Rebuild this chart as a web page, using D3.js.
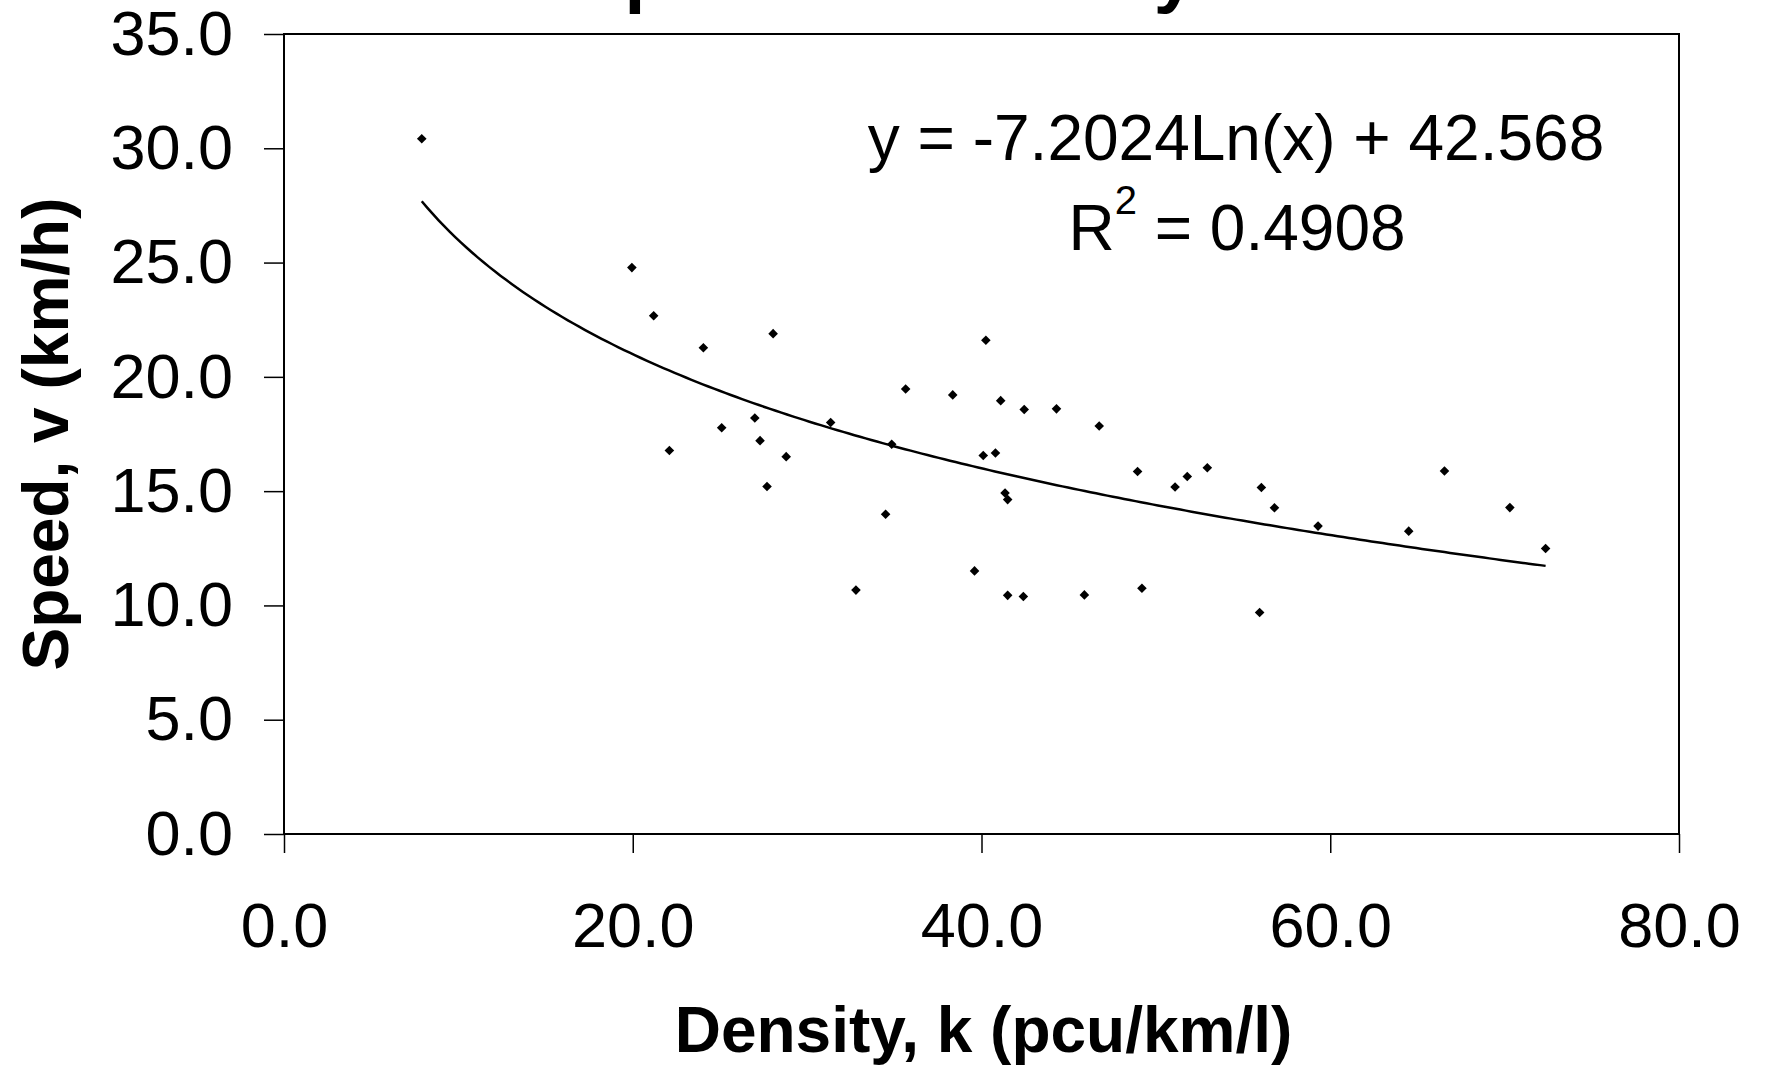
<!DOCTYPE html>
<html>
<head>
<meta charset="utf-8">
<script src="https://cdn.jsdelivr.net/npm/d3@7"></script>
<style>
  body { margin: 0; background: #fff; }
  svg { display: block; }
  text { font-family: Arial, "Liberation Sans", sans-serif; fill: #000; }
</style>
</head>
<body>
<svg id="chart" width="1767" height="1066"></svg>
<script>
// density k (pcu/km/l) and speed v (km/h)
var density = [7.9, 19.95, 21.2, 22.1, 24.05, 25.1, 27.0, 27.3, 28.05, 27.7,
               28.8, 31.35, 32.8, 34.5, 34.85, 35.65, 38.35, 39.6, 40.1, 40.25,
               40.8, 41.1, 41.35, 41.5, 41.5, 42.4, 42.45, 44.3, 45.9, 46.75,
               48.95, 49.2, 51.1, 51.8, 52.95, 55.95, 56.05, 56.8, 59.3, 64.5,
               66.55, 70.3, 72.35];
var speed   = [30.42, 24.78, 22.67, 16.78, 21.27, 17.77, 18.2, 17.21, 21.89, 15.2,
               16.51, 18.0, 10.67, 13.99, 17.05, 19.47, 19.21, 11.51, 16.56, 21.6,
               16.67, 18.96, 14.92, 14.63, 10.44, 10.39, 18.57, 18.6, 10.46, 17.85,
               15.86, 10.75, 15.18, 15.64, 16.02, 9.69, 15.16, 14.27, 13.47, 13.25,
               15.88, 14.28, 12.49];
var xTicks = [0, 20, 40, 60, 80];
var yTicks = [0, 5, 10, 15, 20, 25, 30, 35];
// logarithmic trendline y = a*ln(x) + b, as printed on the chart
var trendA = -7.2024, trendB = 42.568, rSquared = "0.4908";

var title = "Speed vs Density",
    xTitle = "Density, k (pcu/km/l)",
    yTitle = "Speed, v (km/h)";

var svg = d3.select("#chart");
var x = d3.scaleLinear().domain([0, 80]).range([284, 1679]),
    y = d3.scaleLinear().domain([0, 35]).range([834, 34]);
var fmt = d3.format(".1f");

//
// title (mostly cut off at the top of the scan)
svg.append("text")
  .attr("x", 885).attr("y", -1)
  .attr("text-anchor", "middle")
  .style("font-size", "75px").style("font-weight", "bold")
  .text(title);

//
// axes
var yAxis = svg.append("g")
  .attr("transform", "translate(" + x(0) + ",0)")
  .call(d3.axisLeft(y).tickValues(yTicks).tickSize(20).tickPadding(31).tickFormat(fmt));
var xAxis = svg.append("g")
  .attr("transform", "translate(0," + y(0) + ")")
  .call(d3.axisBottom(x).tickValues(xTicks).tickSize(19).tickPadding(49).tickFormat(fmt));

[yAxis, xAxis].forEach(function(g) {
  g.select(".domain").remove();
  g.selectAll(".tick line").attr("stroke", "#000").attr("stroke-width", 1.5);
  g.selectAll(".tick text").attr("fill", "#000")
    .style("font-size", "63px").style("font-family", "Arial, 'Liberation Sans', sans-serif");
});

// plot frame
svg.append("rect")
  .attr("x", x(0)).attr("y", y(35))
  .attr("width", x(80) - x(0)).attr("height", y(0) - y(35))
  .attr("fill", "none").attr("stroke", "#000").attr("stroke-width", 2);

//
// trendline
var kMin = d3.min(density), kMax = d3.max(density);
var trendPts = d3.range(0, 201).map(function(i) {
  var k = kMin + (kMax - kMin) * i / 200;
  return [k, trendA * Math.log(k) + trendB];
});
svg.append("path")
  .datum(trendPts)
  .attr("fill", "none").attr("stroke", "#000").attr("stroke-width", 2.5)
  .attr("d", d3.line().x(function(d) { return x(d[0]); }).y(function(d) { return y(d[1]); }));

//
// observations (diamonds)
var diamond = d3.symbol().type(d3.symbolSquare).size(46);
svg.append("g").selectAll("path")
  .data(density.map(function(k, i) { return { k: k, v: speed[i] }; }))
  .enter().append("path")
  .attr("d", diamond)
  .attr("fill", "#000")
  .attr("transform", function(d) { return "translate(" + x(d.k) + "," + y(d.v) + ") rotate(45)"; });

//
// equation label
svg.append("text")
  .attr("x", 1236).attr("y", 160)
  .attr("text-anchor", "middle")
  .style("font-size", "64px")
  .text("y = " + trendA + "Ln(x) + " + trendB);
var r2Text = svg.append("text")
  .attr("x", 1237).attr("y", 250)
  .attr("text-anchor", "middle")
  .style("font-size", "64px");
r2Text.append("tspan").text("R");
r2Text.append("tspan").attr("dy", -36).style("font-size", "40px").text("2");
r2Text.append("tspan").attr("dy", 36).text(" = " + rSquared);

//
// axis titles
svg.append("text")
  .attr("x", (x(0) + x(80)) / 2 + 2).attr("y", 1052)
  .attr("text-anchor", "middle")
  .style("font-size", "64px").style("font-weight", "bold")
  .text(xTitle);
svg.append("text")
  .attr("transform", "translate(68," + ((y(0) + y(35)) / 2) + ") rotate(-90)")
  .attr("text-anchor", "middle")
  .style("font-size", "64px").style("font-weight", "bold")
  .text(yTitle);
</script>
</body>
</html>
